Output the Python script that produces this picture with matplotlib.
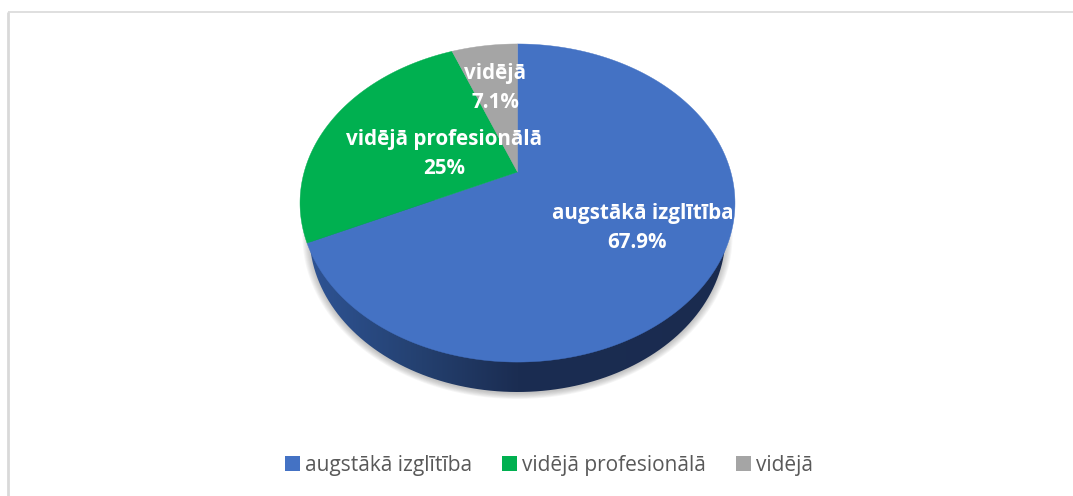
import numpy as np
import matplotlib
matplotlib.use("Agg")
import matplotlib.pyplot as plt
from matplotlib.patches import Patch, PathPatch
from matplotlib.path import Path

categories = ['augstākā izglītība', 'vidējā profesionālā', 'vidējā']
# shares as measured on the drawn slices, printed labels are separate
slice_shares = [68.0, 26.1, 5.9]
printed_labels = ['67.9%', '25%', '7.1%']
colors = ['#4472C4', '#00B050', '#A5A5A5']

plt.rcParams['font.family'] = ['Open Sans', 'DejaVu Sans']

fig = plt.figure(figsize=(10.73, 4.96), dpi=100)
ax = fig.add_axes([0, 0, 1, 1])
ax.set_xlim(0, 1073)
ax.set_ylim(496, 0)
ax.axis('off')

# frame of the chart
ax.plot([8, 8], [496, 12], color='#D9D9D9', lw=2, solid_capstyle='butt')
ax.plot([8, 1073], [12, 12], color='#D9D9D9', lw=1.2, solid_capstyle='butt')

# top face geometry (tilted disc, the apex is not at the centre of the ellipse)
cx, apex_y = 517.5, 172
a, b, k = 213.3, 153.0, -0.195


def project(theta):
    # theta clockwise from the top of the disc
    u, v = np.sin(theta), np.cos(theta)
    w = 1 - k * v
    return cx + a * u / w, apex_y - b * v / w


def ellipse(x0, y0, rx, ry, n=400):
    t = np.linspace(0, 2 * np.pi, n)
    return x0 + rx * np.cos(t), y0 + ry * np.sin(t)


# soft shadow under the disc
for i in range(8):
    ex, ey = ellipse(cx, 236, 208 + 7 - i, 157 + 6 - i * 0.8)
    ax.fill(ex, ey, color='#808080', alpha=0.07, lw=0, zorder=1)

# side wall with a dark gradient
sx, sy = ellipse(cx, 235, 208, 157)
wall = PathPatch(Path(np.column_stack([sx, sy])), fc='none', ec='none', zorder=2)
ax.add_patch(wall)
grad = np.linspace(0, 1, 256).reshape(1, -1)
cmap = matplotlib.colors.LinearSegmentedColormap.from_list(
    'wall', [(0, '#2F5597'), (0.28, '#24406F'), (0.5, '#1B2D52'), (1, '#1A2B4F')])
im = ax.imshow(grad, extent=[300, 735, 396, 200], cmap=cmap, aspect='auto', zorder=2)
im.set_clip_path(wall)
ax.set_xlim(0, 1073)
ax.set_ylim(496, 0)

# top face, slices clockwise from 12 o'clock
edges = np.cumsum([0] + slice_shares) / sum(slice_shares) * 2 * np.pi
for start, stop, col in zip(edges[:-1], edges[1:], colors):
    th = np.linspace(start, stop, 300)
    px, py = project(th)
    ax.fill(np.r_[cx, px], np.r_[apex_y, py], color=col, lw=0.3, ec=col, zorder=3)

# data labels
label_font = dict(color='white', fontweight='bold', fontsize=14.9, ha='center', va='center', zorder=4)
name_pos = [(643, 213), (444, 139), (495, 73)]
value_pos = [(637, 242), (444, 168), (495, 102)]
for name, val, np_, vp in zip(categories, printed_labels, name_pos, value_pos):
    ax.text(np_[0], np_[1], name, **label_font)
    ax.text(vp[0], vp[1], val, **label_font)

handles = [Patch(fc=c, ec='none') for c in colors]
ax.legend(handles, categories, loc='center', bbox_to_anchor=(549 / 1073, 1 - 465 / 496),
          ncol=3, frameon=False, fontsize=15, labelcolor='#595959',
          handlelength=0.7, handleheight=0.75, handletextpad=0.25, columnspacing=1.45)

fig.savefig('out.png', dpi=100)
